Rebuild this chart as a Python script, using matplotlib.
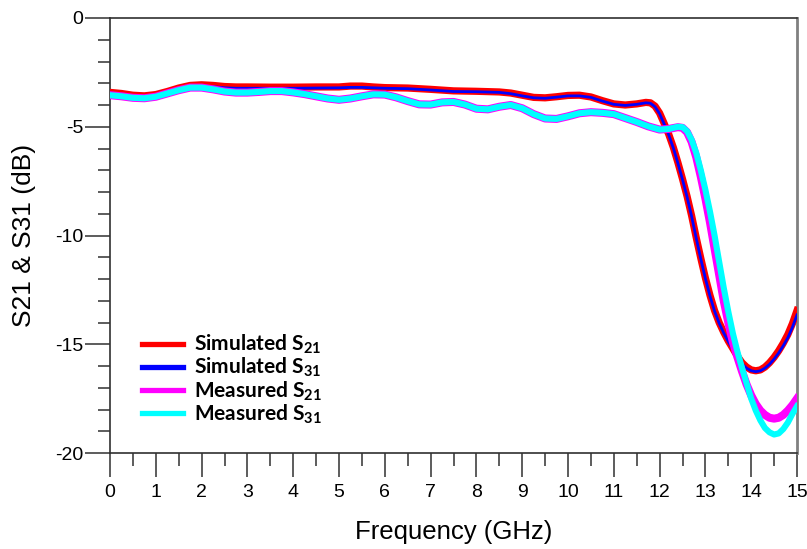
import numpy as np
import matplotlib
matplotlib.use("Agg")
import matplotlib.pyplot as plt
from matplotlib.lines import Line2D
from matplotlib.ticker import MultipleLocator

# simulated S21 (GHz, dB)
sim21_f = [0.0, 0.25, 0.5, 0.75, 1.0, 1.25, 1.5, 1.75, 2.0, 2.25, 2.5, 2.75, 3.0, 3.5,
           4.0, 4.5, 5.0, 5.25, 5.5, 5.75, 6.0, 6.5, 7.0, 7.5, 8.0, 8.5, 8.75, 9.0,
           9.25, 9.5, 9.75, 10.0, 10.25, 10.5, 10.75, 11.0, 11.25, 11.5, 11.7, 11.8,
           11.9, 12.0, 12.1, 12.2, 12.3, 12.4, 12.5, 12.6, 12.7, 12.8, 12.9, 13.0,
           13.1, 13.2, 13.3, 13.4, 13.5, 13.6, 13.7, 13.8, 13.9, 14.0, 14.1, 14.2,
           14.3, 14.4, 14.5, 14.6, 14.7, 14.8, 14.9, 15.0]
sim21_db = [-3.42, -3.47, -3.55, -3.58, -3.52, -3.38, -3.22, -3.1, -3.07, -3.1, -3.15,
            -3.17, -3.17, -3.18, -3.18, -3.17, -3.17, -3.13, -3.13, -3.17, -3.2, -3.22,
            -3.28, -3.35, -3.37, -3.4, -3.45, -3.55, -3.65, -3.67, -3.62, -3.56, -3.55,
            -3.63, -3.8, -3.95, -4.0, -3.95, -3.88, -3.9, -4.05, -4.37, -4.85, -5.35,
            -5.95, -6.65, -7.4, -8.2, -9.1, -10.1, -11.05, -11.95, -12.75, -13.45,
            -14.0, -14.45, -14.85, -15.2, -15.55, -15.85, -16.05, -16.18, -16.22,
            -16.18, -16.05, -15.85, -15.6, -15.3, -14.95, -14.55, -14.05, -13.45]

# simulated S31
sim31_f = [0.0, 0.25, 0.5, 0.75, 1.0, 1.25, 1.5, 1.75, 2.0, 2.25, 2.5, 2.75, 3.0, 3.5,
           4.0, 4.5, 5.0, 5.25, 5.5, 5.75, 6.0, 6.5, 7.0, 7.5, 8.0, 8.5, 8.75, 9.0,
           9.25, 9.5, 9.75, 10.0, 10.25, 10.5, 10.75, 11.0, 11.25, 11.5, 11.7, 11.8,
           11.9, 12.0, 12.1, 12.2, 12.3, 12.4, 12.5, 12.6, 12.7, 12.8, 12.9, 13.0,
           13.1, 13.2, 13.3, 13.4, 13.5, 13.6, 13.7, 13.8, 13.9, 14.0, 14.1, 14.2,
           14.3, 14.4, 14.5, 14.6, 14.7, 14.8, 14.9, 15.0]
sim31_db = [-3.44, -3.5, -3.58, -3.6, -3.55, -3.41, -3.26, -3.14, -3.12, -3.16, -3.21,
            -3.23, -3.23, -3.23, -3.23, -3.22, -3.21, -3.19, -3.19, -3.21, -3.23, -3.25,
            -3.31, -3.38, -3.39, -3.42, -3.48, -3.58, -3.67, -3.69, -3.64, -3.58, -3.58,
            -3.65, -3.82, -3.97, -4.02, -3.97, -3.9, -3.92, -4.08, -4.4, -4.88, -5.38,
            -5.98, -6.68, -7.43, -8.23, -9.13, -10.13, -11.08, -11.98, -12.78, -13.48,
            -14.03, -14.48, -14.88, -15.24, -15.6, -15.9, -16.1, -16.22, -16.26,
            -16.22, -16.1, -15.92, -15.68, -15.4, -15.07, -14.7, -14.22, -13.65]

# measured S21
meas21_f = [0.0, 0.25, 0.5, 0.75, 1.0, 1.25, 1.5, 1.75, 2.0, 2.25, 2.5, 2.75, 3.0,
            3.25, 3.5, 3.75, 4.0, 4.25, 4.5, 4.75, 5.0, 5.25, 5.5, 5.75, 6.0, 6.25,
            6.5, 6.75, 7.0, 7.25, 7.5, 7.75, 8.0, 8.25, 8.5, 8.75, 9.0, 9.25, 9.5,
            9.75, 10.0, 10.25, 10.5, 10.75, 11.0, 11.25, 11.5, 11.75, 12.0, 12.2,
            12.3, 12.4, 12.5, 12.6, 12.7, 12.8, 12.9, 13.0, 13.1, 13.2, 13.3, 13.4,
            13.5, 13.6, 13.7, 13.8, 13.9, 14.0, 14.1, 14.2, 14.3, 14.4, 14.5, 14.6,
            14.7, 14.8, 14.9, 15.0]
meas21_db = [-3.55, -3.6, -3.67, -3.69, -3.62, -3.47, -3.32, -3.2, -3.2, -3.28, -3.38,
             -3.43, -3.43, -3.4, -3.36, -3.36, -3.42, -3.5, -3.6, -3.7, -3.76, -3.7,
             -3.6, -3.51, -3.52, -3.65, -3.82, -3.97, -3.98, -3.88, -3.86, -3.98,
             -4.17, -4.2, -4.08, -4.0, -4.15, -4.42, -4.62, -4.64, -4.52, -4.38, -4.33,
             -4.36, -4.42, -4.6, -4.78, -4.98, -5.13, -5.1, -5.06, -5.02, -5.05, -5.25,
             -5.7, -6.4, -7.3, -8.3, -9.4, -10.6, -11.8, -13.0, -14.0, -14.9, -15.6,
             -16.25, -16.85, -17.35, -17.75, -18.05, -18.25, -18.38, -18.42, -18.38,
             -18.25, -18.05, -17.8, -17.5]

# measured S31
meas31_f = [0.0, 0.25, 0.5, 0.75, 1.0, 1.25, 1.5, 1.75, 2.0, 2.25, 2.5, 2.75, 3.0,
            3.25, 3.5, 3.75, 4.0, 4.25, 4.5, 4.75, 5.0, 5.25, 5.5, 5.75, 6.0, 6.25,
            6.5, 6.75, 7.0, 7.25, 7.5, 7.75, 8.0, 8.25, 8.5, 8.75, 9.0, 9.25, 9.5,
            9.75, 10.0, 10.25, 10.5, 10.75, 11.0, 11.25, 11.5, 11.75, 12.0, 12.2,
            12.3, 12.4, 12.5, 12.6, 12.7, 12.8, 12.9, 13.0, 13.1, 13.2, 13.3, 13.4,
            13.5, 13.6, 13.7, 13.8, 13.9, 14.0, 14.1, 14.2, 14.3, 14.4, 14.5, 14.6,
            14.7, 14.8, 14.9, 15.0]
meas31_db = [-3.55, -3.6, -3.67, -3.69, -3.62, -3.47, -3.32, -3.2, -3.2, -3.28, -3.38,
             -3.43, -3.43, -3.4, -3.36, -3.36, -3.42, -3.5, -3.6, -3.7, -3.76, -3.7,
             -3.6, -3.51, -3.52, -3.65, -3.82, -3.97, -3.98, -3.88, -3.86, -3.98,
             -4.17, -4.2, -4.08, -4.0, -4.15, -4.42, -4.62, -4.64, -4.52, -4.38, -4.33,
             -4.36, -4.42, -4.6, -4.78, -4.98, -5.13, -5.1, -5.05, -5.0, -5.02, -5.2,
             -5.6, -6.2, -7.0, -7.9, -8.9, -10.0, -11.2, -12.4, -13.5, -14.5, -15.35,
             -16.1, -16.8, -17.5, -18.05, -18.5, -18.85, -19.05, -19.15, -19.1, -18.9,
             -18.6, -18.2, -17.85]

labels = ["Simulated S$_{21}$", "Simulated S$_{31}$",
          "Measured S$_{21}$", "Measured S$_{31}$"]
colors = ["#ff0000", "#0000ff", "#ff00ff", "#00ffff"]

plt.rcParams["font.family"] = "Liberation Sans"
plt.rcParams["mathtext.fontset"] = "custom"
plt.rcParams["mathtext.rm"] = "Lato:bold"
plt.rcParams["mathtext.bf"] = "Lato:bold"
plt.rcParams["mathtext.it"] = "Lato:bold"

fig = plt.figure(figsize=(8.07, 5.49), dpi=100)
ax = fig.add_axes([110 / 807, 1 - 453 / 549, 687 / 807, 435 / 549])

ax.plot(sim21_f, sim21_db, color=colors[0], lw=5.2, solid_joinstyle="round", zorder=3)
ax.plot(sim31_f, sim31_db, color=colors[1], lw=2.0, solid_joinstyle="round", zorder=4)
ax.plot(meas21_f, meas21_db, color=colors[2], lw=5.8, solid_joinstyle="round", zorder=5)
ax.plot(meas31_f, meas31_db, color=colors[3], lw=4.4, solid_joinstyle="round", zorder=6)

ax.set_xlim(0, 15)
ax.set_ylim(-20, 0)
ax.xaxis.set_major_locator(MultipleLocator(1))
ax.xaxis.set_minor_locator(MultipleLocator(0.5))
ax.yaxis.set_major_locator(MultipleLocator(5))
ax.yaxis.set_minor_locator(MultipleLocator(1))
ax.tick_params(axis="x", which="major", direction="out", length=17, width=1.1,
               color="#303030", labelsize=14, pad=5)
ax.tick_params(axis="x", which="minor", direction="out", length=9, width=1.1,
               color="#303030")
ax.tick_params(axis="y", which="major", direction="out", length=18, width=1.1,
               color="#303030", labelsize=14, pad=1)
ax.tick_params(axis="y", which="minor", direction="out", length=9, width=1.1,
               color="#303030")
ax.set_yticks([0, -5, -10, -15, -20], ["0", "-5", "-10", "-15", "-20"])

for side in ["left", "top", "bottom"]:
    ax.spines[side].set_color("#303030")
    ax.spines[side].set_linewidth(1.2)
ax.spines["right"].set_color("#808080")
ax.spines["right"].set_linewidth(2.0)

ax.set_xlabel("Frequency (GHz)", fontsize=18.5, labelpad=14)
ax.set_ylabel("S21 & S31 (dB)", fontsize=19, labelpad=14)

handles = [Line2D([], [], color=c, lw=3.8) for c in colors]
ax.legend(handles, labels, loc="lower left", bbox_to_anchor=(0.046, 0.062),
          frameon=False, prop={"family": "Lato", "weight": "bold", "size": 15},
          handlelength=2.0, handletextpad=0.5, labelspacing=0.0, borderaxespad=0,
          borderpad=0)

fig.savefig("out.png", dpi=100)
